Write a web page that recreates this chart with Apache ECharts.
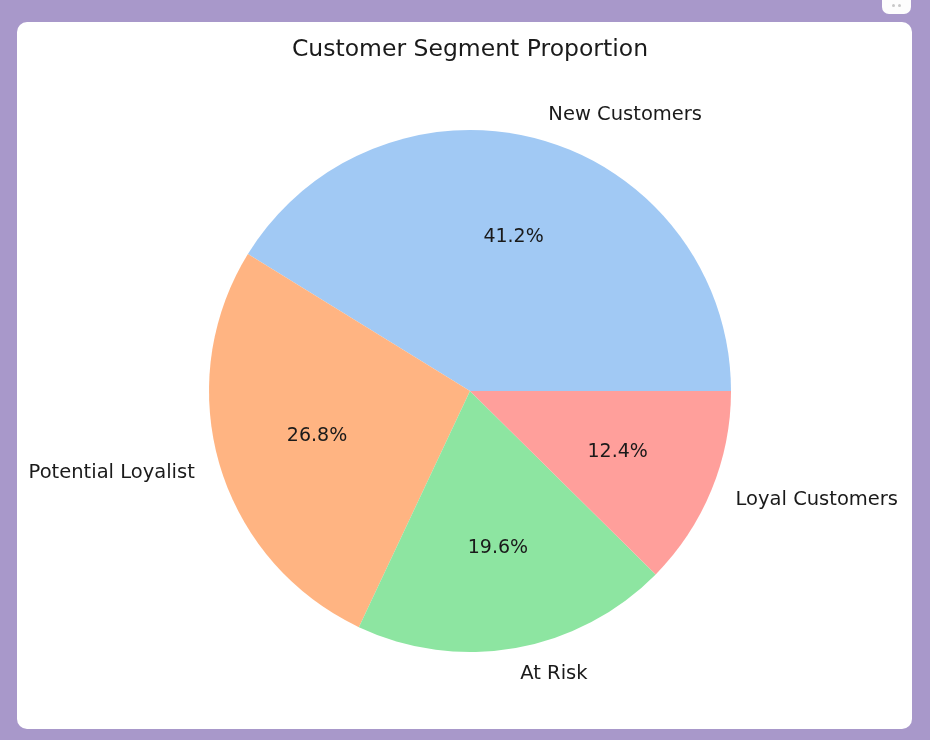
<!DOCTYPE html>
<html>
<head>
<meta charset="utf-8">
<script src="https://cdn.jsdelivr.net/npm/echarts@6/dist/echarts.min.js"></script>
<style>
  html, body { margin: 0; padding: 0; width: 930px; height: 740px; overflow: hidden; background: #A898CA; }
  #card { position: absolute; left: 17px; top: 22px; width: 895px; height: 707px; background: #ffffff; border-radius: 10px; }
  #closeBtn { position: absolute; left: 882px; top: -8px; width: 29px; height: 22px; background: #fdfdfd; border-radius: 7px; }
  #closeBtn span { position: absolute; top: 12px; width: 3px; height: 3px; background: #c8c8c8; border-radius: 2px; }
  #chart { position: absolute; left: 0; top: 0; width: 930px; height: 740px; }
</style>
</head>
<body>
<div id="card"></div>
<div id="closeBtn"><span style="left:10px"></span><span style="left:16px"></span></div>
<div id="chart"></div>
<script>
const titleText = "Customer Segment Proportion";
const categories = ["New Customers", "Potential Loyalist", "At Risk", "Loyal Customers"];
const percentages = [41.2, 26.8, 19.6, 12.4];
const colors = ["#A1C9F4", "#FFB482", "#8DE5A1", "#FF9F9B"];

const R = 261;
const center = [470, 391];
const fontFamily = "DejaVu Sans";

const pieData = categories.map((c, i) => ({ name: c, value: percentages[i], itemStyle: { color: colors[i] } }));
const pctData = categories.map((c, i) => ({ name: c, value: percentages[i], itemStyle: { color: 'rgba(0,0,0,0)' } }));

const chart = echarts.init(document.getElementById('chart'), null, { renderer: 'canvas' });
chart.setOption({
  animation: false,
  title: {
    text: titleText,
    left: 465,
    textAlign: 'center',
    top: 33,
    textStyle: { fontFamily: fontFamily, fontSize: 23.5, fontWeight: 'normal', color: '#1a1a1a' }
  },
  series: [
    {
      type: 'pie',
      center: center,
      radius: [0, R],
      startAngle: 0,
      clockwise: false,
      avoidLabelOverlap: false,
      silent: true,
      data: pieData,
      label: {
        show: true,
        position: 'outside',
        formatter: '{b}',
        fontFamily: fontFamily,
        fontSize: 19.5,
        color: '#1a1a1a',
        distanceToLabelLine: 0
      },
      labelLine: { show: false, length: R * 0.1, length2: 0 },
      emphasis: { disabled: true }
    },
    {
      type: 'pie',
      center: center,
      radius: [0, R * 1.2],
      startAngle: 0,
      clockwise: false,
      avoidLabelOverlap: false,
      silent: true,
      data: pctData,
      label: {
        show: true,
        position: 'inside',
        formatter: p => p.value.toFixed(1) + '%',
        fontFamily: fontFamily,
        fontSize: 19,
        color: '#1a1a1a'
      },
      labelLine: { show: false },
      emphasis: { disabled: true }
    }
  ]
});
</script>
</body>
</html>
